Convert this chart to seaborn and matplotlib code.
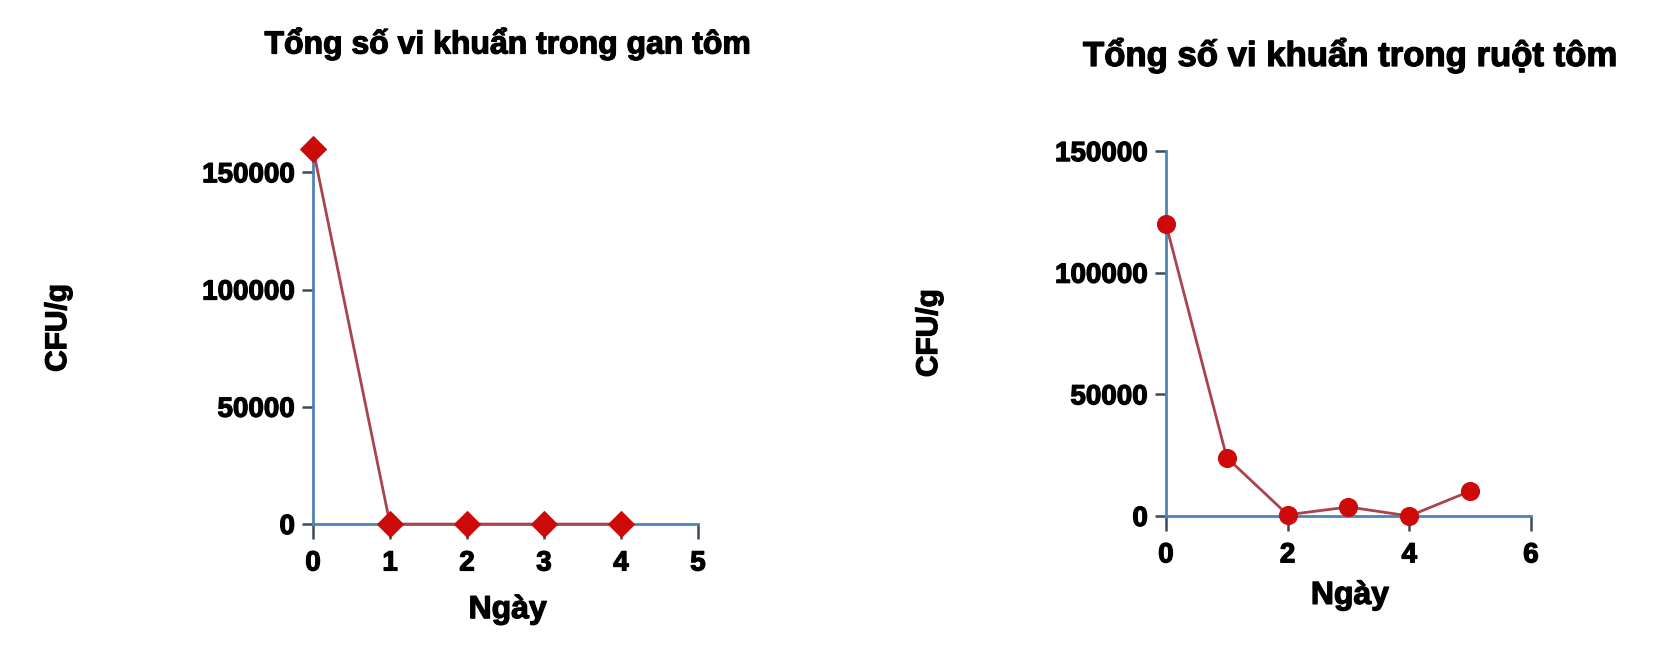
import matplotlib
matplotlib.use("Agg")
import matplotlib.pyplot as plt
import matplotlib.patheffects as pe
import seaborn as sns
import pandas as pd

# data
days_gan = [0, 1, 2, 3, 4]
cfu_gan = [160000, 0, 0, 0, 0]
days_ruot = [0, 1, 2, 3, 4, 5]
cfu_ruot = [120000, 24000, 500, 3700, 0, 10200]

title_gan = "Tổng số vi khuẩn trong gan tôm"
title_ruot = "Tổng số vi khuẩn trong ruột tôm"
xlab = "Ngày"
ylab = "CFU/g"

sns.set_theme(style="white")
plt.rcParams['font.family'] = ['Liberation Sans', 'DejaVu Sans']
plt.rcParams['font.weight'] = 'bold'
plt.rcParams['text.color'] = 'black'

heavy = [pe.withStroke(linewidth=0.9, foreground='black')]

fig = plt.figure(figsize=(16.59, 6.47), dpi=100)
ax1 = fig.add_axes([0.1887, 0.190, 0.232, 0.580])
ax2 = fig.add_axes([0.7028, 0.2025, 0.220, 0.564])

line_col = "#a8444c"
mark_col = "#cc0a0a"
spine_col = "#4f82b8"

df1 = pd.DataFrame({"day": days_gan, "cfu": cfu_gan})
df2 = pd.DataFrame({"day": days_ruot, "cfu": cfu_ruot})

sns.lineplot(data=df1, x="day", y="cfu", ax=ax1, color=line_col, lw=2,
             marker="D", markersize=13, markerfacecolor=mark_col,
             markeredgecolor=mark_col, clip_on=False, zorder=5)
sns.lineplot(data=df2, x="day", y="cfu", ax=ax2, color=line_col, lw=2,
             marker="o", markersize=13, markerfacecolor=mark_col,
             markeredgecolor=mark_col, clip_on=False, zorder=5)

ax1.set_xlim(0, 5)
ax1.set_ylim(0, 160000)
ax1.set_xticks([0, 1, 2, 3, 4, 5])
ax1.set_yticks([0, 50000, 100000, 150000])

ax2.set_xlim(0, 6)
ax2.set_ylim(0, 150000)
ax2.set_xticks([0, 2, 4, 6])
ax2.set_yticks([0, 50000, 100000, 150000])

for ax in (ax1, ax2):
    sns.despine(ax=ax)
    ax.spines['left'].set_color(spine_col)
    ax.spines['bottom'].set_color(spine_col)
    ax.spines['left'].set_linewidth(2)
    ax.spines['bottom'].set_linewidth(2)
    ax.tick_params(axis='both', direction='out', width=1.8, color="#3a4a5a",
                   labelsize=20, labelcolor='black', bottom=True, left=True)
    ax.tick_params(axis='y', length=8, pad=5)
    ax.tick_params(axis='x', length=11, pad=8)
    for lab in ax.get_xticklabels() + ax.get_yticklabels():
        lab.set_fontweight('bold')
        lab.set_path_effects(heavy)
    ax.set_xlabel("")
    ax.set_ylabel("")

fig.text(0.306, 0.932, title_gan, ha='center', va='center', fontsize=23,
         fontweight='bold', path_effects=heavy)
fig.text(0.8137, 0.915, title_ruot, ha='center', va='center', fontsize=25,
         fontweight='bold', path_effects=heavy)
fig.text(0.306, 0.057, xlab, ha='center', va='center', fontsize=23,
         fontweight='bold', path_effects=heavy)
fig.text(0.8137, 0.079, xlab, ha='center', va='center', fontsize=23,
         fontweight='bold', path_effects=heavy)
fig.text(0.035, 0.493, ylab, ha='center', va='center', rotation=90, fontsize=21.5,
         fontweight='bold', path_effects=heavy)
fig.text(0.560, 0.485, ylab, ha='center', va='center', rotation=90, fontsize=21.5,
         fontweight='bold', path_effects=heavy)

fig.savefig("out.png", dpi=100)
